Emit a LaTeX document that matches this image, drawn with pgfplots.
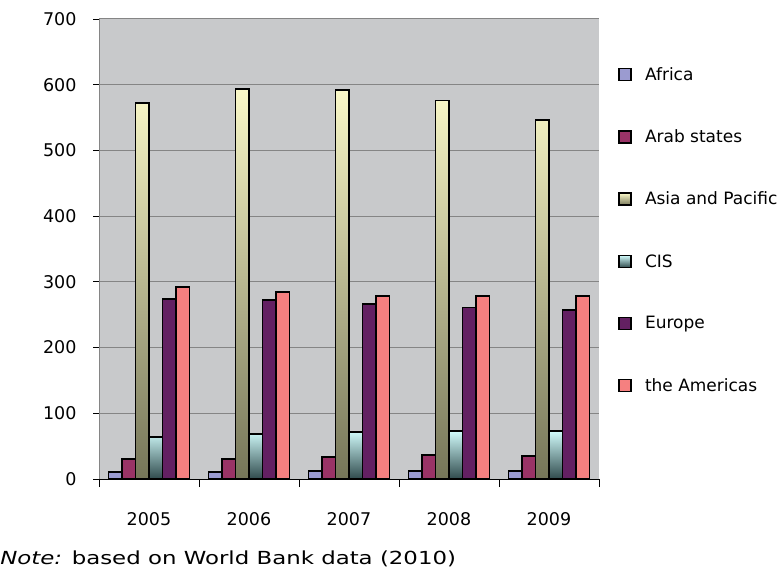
\documentclass[border=0pt]{standalone}
\usepackage{fontspec}
\setmainfont{DejaVu Sans}
\usepackage{pgfplots}
\pgfplotsset{compat=1.18}
\definecolor{bg}{HTML}{C8C9CB}
\definecolor{gridc}{HTML}{858585}
\definecolor{cafr}{HTML}{9B9BD0}
\definecolor{carab}{HTML}{993366}
\definecolor{casiaT}{HTML}{FAF8C8}
\definecolor{casiaB}{HTML}{757558}
\definecolor{ccisT}{HTML}{D0FAFA}
\definecolor{ccisB}{HTML}{2F4A4C}
\definecolor{ceur}{HTML}{632062}
\definecolor{camer}{HTML}{F58080}
\begin{document}
\begin{tikzpicture}[x=1pt,y=1pt]
\useasboundingbox (0,0) rectangle (784,570);
\begin{axis}[
  at={(99pt,91pt)}, anchor=south west,
  width=500pt, height=460pt, scale only axis,
  ybar, bar width=13.5pt, ybar=0pt,
  xmin=-0.5, xmax=4.5, ymin=0, ymax=700,
  ytick={0,100,...,700},
  xtick={0,1,2,3,4},
  xticklabels={2005,2006,2007,2008,2009},
  minor xtick={-0.5,0.5,1.5,2.5,3.5,4.5},
  major x tick style={draw=none},
  minor x tick style={black, line width=0.8pt},
  minor tick length=8pt,
  major tick length=6pt,
  tick align=outside,
  ytick style={black, line width=0.8pt},
  axis x line*=bottom, axis y line*=left,
  x axis line style={black, line width=1pt, -},
  y axis line style={gridc, line width=1pt, -},
  axis background/.style={fill=bg},
  ymajorgrids, grid style={gridc, line width=1pt},
  /pgf/number format/assume math mode=true,
  tick label style={font=\fontsize{17.5}{20}\selectfont},
  yticklabel style={xshift=-13pt},
  xticklabel style={yshift=-24pt},
  every axis plot/.append style={draw=black, line width=1.9pt},
  legend style={at={(1,1)}, anchor=north west, xshift=16pt, yshift=-44pt,
    draw=none, fill=none, font=\fontsize{17}{20}\selectfont, row sep=44pt},
  legend cell align=left,
  legend image code/.code={\draw[#1, line width=1.6pt] (0pt,-6pt) rectangle (12pt,6pt); \path[draw=none, fill=none, top color=white, bottom color=white, shade=false] (0pt,0pt) (24pt,0pt);},
]
\addplot[fill=cafr] coordinates {(0,11) (1,11) (2,12) (3,12.5) (4,12)};
\addplot[fill=carab] coordinates {(0,30) (1,31) (2,34) (3,36) (4,35)};
\addplot[top color=casiaT, bottom color=casiaB] coordinates {(0,572) (1,593) (2,592) (3,576) (4,546)};
\addplot[top color=ccisT, bottom color=ccisB] coordinates {(0,64) (1,69) (2,71.5) (3,72.5) (4,72.5)};
\addplot[fill=ceur] coordinates {(0,274) (1,273) (2,266) (3,261) (4,257)};
\addplot[fill=camer] coordinates {(0,292) (1,284) (2,278) (3,278.5) (4,278)};
\legend{Africa,Arab states,Asia and Pacific,CIS,Europe,the Americas}
\end{axis}
\node[anchor=west, font=\fontsize{18}{22}\selectfont, inner sep=0pt, xscale=1.27] at (0,11) {\textit{Note:} based on World Bank data (2010)};
\end{tikzpicture}
\end{document}
